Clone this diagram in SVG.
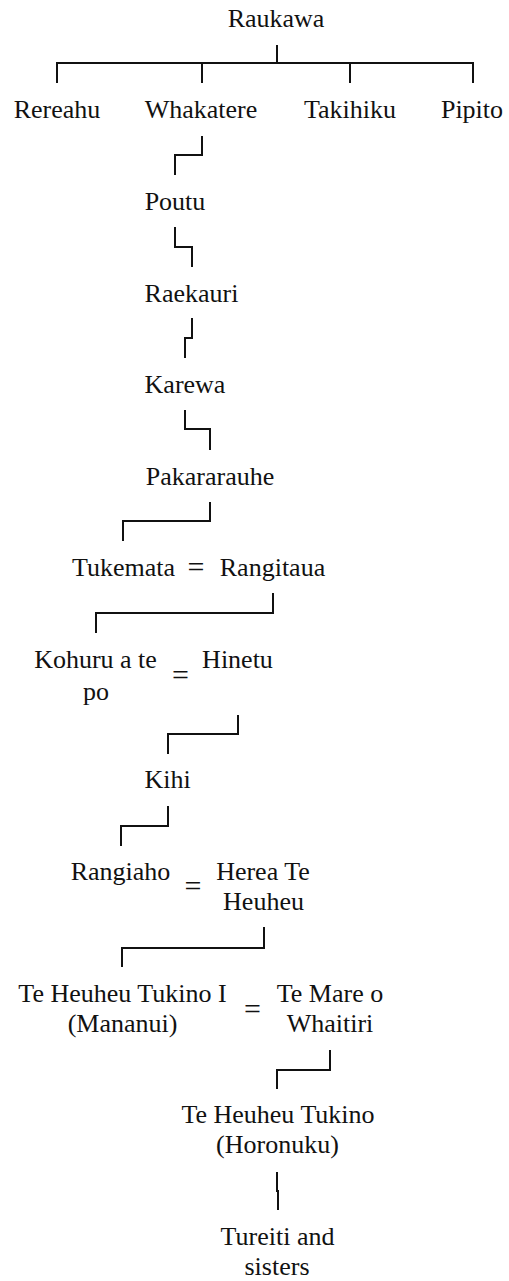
<svg xmlns="http://www.w3.org/2000/svg" width="509" height="1281" viewBox="0 0 509 1281" font-family="Liberation Serif, serif" font-size="26">
<style>
text{font-family:'Liberation Serif',serif;font-size:26px;fill:#111;text-anchor:middle}
.eq{font-size:30px}
.c path{fill:none;stroke:#111;stroke-width:2}
</style>
<rect width="509" height="1281" fill="#fff"/>
<g class="c" id="connectors">
<path d="M277 45V63M57 63H473M57 62V83M202 63V83M350 63V83M473 62V83"/>
<path d="M202 136V155H175V175"/>
<path d="M175 227V247H192V267"/>
<path d="M192 318V338H185V358"/>
<path d="M185 410V429H210V450"/>
<path d="M210 502V521H123V541"/>
<path d="M273 593V613H96V633"/>
<path d="M238 715V734H168V754"/>
<path d="M168 806V826H121V846"/>
<path d="M264 927V948H122V967"/>
<path d="M330 1050V1070H277V1089"/>
<path d="M277 1172V1191H278V1210"/>
</g>
<g id="raukawa"><text x="276" y="27">Raukawa</text></g>
<g id="rereahu"><text x="57" y="118">Rereahu</text></g>
<g id="whakatere"><text x="201" y="118">Whakatere</text></g>
<g id="takihiku"><text x="350" y="118">Takihiku</text></g>
<g id="pipito"><text x="472" y="118">Pipito</text></g>
<g id="poutu"><text x="175" y="210">Poutu</text></g>
<g id="raekauri"><text x="191.5" y="302">Raekauri</text></g>
<g id="karewa"><text x="185" y="393">Karewa</text></g>
<g id="pakararauhe"><text x="210" y="485">Pakararauhe</text></g>
<g id="tukemata"><text x="123.5" y="576">Tukemata</text></g>
<g id="eq1"><text class="eq" x="196" y="577">=</text></g>
<g id="rangitaua"><text x="272.5" y="576">Rangitaua</text></g>
<g id="kohuru"><text x="95.5" y="668">Kohuru a te</text><text x="96" y="700">po</text></g>
<g id="eq2"><text class="eq" x="180.5" y="685">=</text></g>
<g id="hinetu"><text x="237.5" y="668">Hinetu</text></g>
<g id="kihi"><text x="167.5" y="788">Kihi</text></g>
<g id="rangiaho"><text x="120.5" y="880">Rangiaho</text></g>
<g id="eq3"><text class="eq" x="193" y="896">=</text></g>
<g id="herea"><text x="263" y="880">Herea Te</text><text x="263.5" y="910">Heuheu</text></g>
<g id="teheuheu1"><text x="122.5" y="1002">Te Heuheu Tukino I</text><text x="122.5" y="1032">(Mananui)</text></g>
<g id="eq4"><text class="eq" x="252.5" y="1019">=</text></g>
<g id="temare"><text x="330" y="1002">Te Mare o</text><text x="330" y="1032">Whaitiri</text></g>
<g id="teheuheu2"><text x="278" y="1123">Te Heuheu Tukino</text><text x="277.5" y="1153">(Horonuku)</text></g>
<g id="tureiti"><text x="277.5" y="1245">Tureiti and</text><text x="277" y="1275">sisters</text></g>
</svg>
